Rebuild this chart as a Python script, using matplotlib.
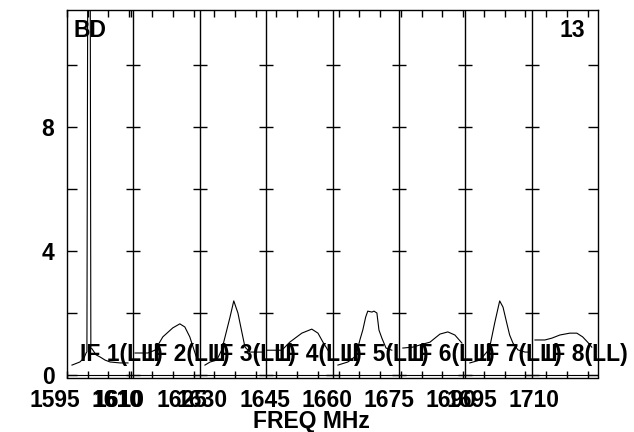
import matplotlib
matplotlib.use('Agg')
import matplotlib.pyplot as plt
from matplotlib.transforms import ScaledTranslation

plt.rcParams['font.family'] = ['Liberation Sans', 'DejaVu Sans']
plt.rcParams['font.weight'] = 'bold'

# IF bands: start frequency (MHz), each 16 MHz wide
if_names = ['IF 1(LL)', 'IF 2(LL)', 'IF 3(LL)', 'IF 4(LL)',
            'IF 5(LL)', 'IF 6(LL)', 'IF 7(LL)', 'IF 8(LL)']
if_start = [1595.0, 1610.5, 1626.5, 1642.5, 1658.5, 1674.5, 1690.5, 1706.5]
if_width = 16.0

# spectra: offset inside the IF (MHz) and amplitude
if1_off = [1.2, 3.1, 4.1, 4.6, 4.8, 5.0, 5.6, 5.75, 6.0, 7.0, 8.0, 9.2, 10.4, 12.8, 14.7]
if1_amp = [0.32, 0.42, 0.55, 0.71, 0.75, 13.0, 13.0, 0.85, 0.85, 0.65, 0.58, 0.48, 0.42, 0.39, 0.39]
if2_off = [0.4, 3.5, 5.2, 7.1, 9.5, 11.2, 12.4, 13.6, 14.4, 15.1]
if2_amp = [0.71, 0.71, 0.80, 1.23, 1.52, 1.65, 1.55, 1.23, 0.90, 0.61]
if3_off = [1.25, 2.5, 4.1, 5.3, 6.1, 7.3, 8.2, 9.2, 10.2, 10.9, 12.1, 13.8, 15.2]
if3_amp = [0.32, 0.42, 0.48, 0.81, 1.23, 1.87, 2.39, 2.00, 1.35, 0.90, 0.74, 0.74, 0.74]
if4_off = [0.2, 3.8, 5.7, 8.6, 11.0, 12.5, 13.7, 14.9]
if4_amp = [0.80, 0.80, 1.06, 1.35, 1.48, 1.35, 1.06, 0.80]
if5_off = [1.3, 3.7, 5.6, 6.6, 7.3, 8.0, 8.5, 9.5, 10.0, 10.7, 11.2, 11.9, 12.9, 14.3]
if5_amp = [0.32, 0.42, 0.61, 1.13, 1.45, 1.87, 2.06, 2.03, 2.06, 2.00, 1.45, 1.19, 0.87, 0.80]
if6_off = [0.96, 3.4, 5.1, 7.5, 9.9, 11.8, 13.5, 15.2]
if6_amp = [0.87, 0.90, 0.97, 1.06, 1.32, 1.39, 1.29, 1.03]
if7_off = [1.1, 3.5, 5.2, 5.9, 7.1, 8.3, 9.1, 10.0, 10.7, 11.5, 12.7, 14.4, 15.6]
if7_amp = [0.39, 0.48, 0.74, 0.90, 1.68, 2.39, 2.19, 1.68, 1.29, 1.03, 0.81, 0.74, 0.74]
if8_off = [0.8, 3.2, 4.9, 6.8, 9.2, 10.9, 12.3, 13.5, 14.5]
if8_amp = [1.13, 1.13, 1.19, 1.29, 1.35, 1.35, 1.23, 1.06, 0.90]

spec_off = [if1_off, if2_off, if3_off, if4_off, if5_off, if6_off, if7_off, if8_off]
spec_amp = [if1_amp, if2_amp, if3_amp, if4_amp, if5_amp, if6_amp, if7_amp, if8_amp]

# frequency ticks per IF, and which of them carry a label
if_ticks = [[1595, 1600, 1605, 1610], [1610, 1615, 1620, 1625], [1630, 1635, 1640],
            [1645, 1650, 1655], [1660, 1665, 1670], [1675, 1680, 1685],
            [1690, 1695, 1700, 1705], [1710, 1715, 1720]]
if_labels = [[1595, 1610], [1610, 1625], [1630], [1645], [1660], [1675],
             [1690, 1695], [1710]]

y_ticks = [0, 2, 4, 6, 8, 10]
y_labels = ['0', '', '4', '', '8', '']

fs = 16.5

fig = plt.figure(figsize=(6.34, 4.32), dpi=100)
ax = fig.add_axes([67 / 634, 1 - 377.5 / 432, 531 / 634, 367.5 / 432])

n_if = len(if_names)
for i in range(n_if):
    x = [i * if_width + o for o in spec_off[i]]
    ax.plot(x, spec_amp[i], color='black', lw=0.8)
    ax.text(i * if_width + 3.2, 0.45, if_names[i], fontsize=fs,
            fontweight='bold', ha='left', va='baseline', clip_on=False)

# panel dividers with crossing ticks
for i in range(1, n_if):
    ax.axvline(i * if_width, color='black', lw=1.0)
    ax.plot([i * if_width] * len(y_ticks), y_ticks, ls='none', marker='_',
            ms=10, mew=1.0, color='black')
ax.axhline(0, color='black', lw=0.8)

tick_pos = []
tick_lab = []
for i in range(n_if):
    for f in if_ticks[i]:
        tick_pos.append(i * if_width + (f - if_start[i]))
        tick_lab.append(str(f) if f in if_labels[i] else '')

ax.set_xlim(0, n_if * if_width)
ax.set_ylim(-0.08, 11.77)
ax.set_xticks(tick_pos)
ax.set_xticklabels(tick_lab, fontsize=fs, fontweight='bold')
ax.set_yticks(y_ticks)
ax.set_yticklabels(y_labels, fontsize=fs, fontweight='bold')
ax.tick_params(axis='x', direction='in', top=True, length=5, width=1, pad=8)
ax.tick_params(axis='y', direction='in', right=True, length=7, width=1, pad=9)
shift = ScaledTranslation(-12 / 100, 0, fig.dpi_scale_trans)
for lab in ax.get_xticklabels():
    lab.set_transform(lab.get_transform() + shift)
for s in ax.spines.values():
    s.set_linewidth(1.0)

ax.set_xlabel('FREQ MHz', fontsize=fs, fontweight='bold', va='top')
ax.xaxis.set_label_coords(0.461, -0.089)

ax.text(1.45, 10.9, 'BD', fontsize=fs, fontweight='bold', va='baseline')
ax.text(124.8, 10.9, '13', fontsize=fs, fontweight='bold', ha='right', va='baseline')

fig.savefig('out.png', dpi=100)
